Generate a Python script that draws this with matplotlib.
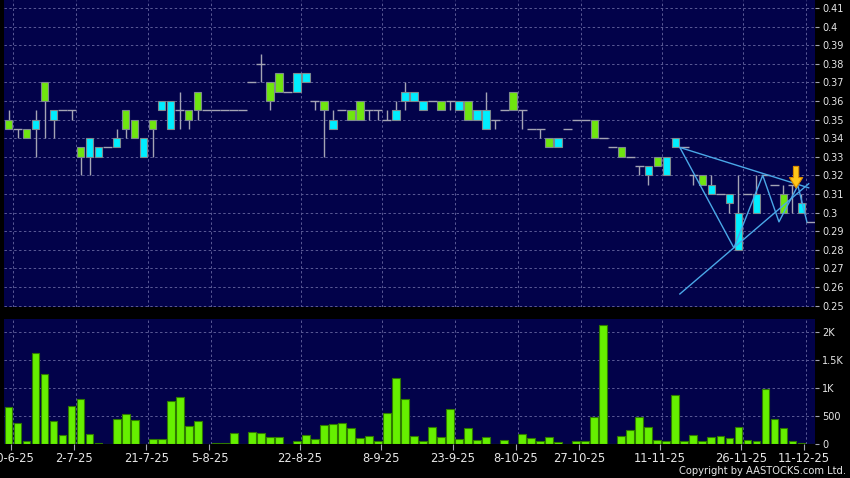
import numpy as np
import matplotlib.pyplot as plt

# daily candles, oldest first (one entry per traded day on the chart)
opens = [0.345, 0.345, 0.340, 0.350, 0.360, 0.355, 0.355, 0.355, 0.330, 0.340,
         0.335, 0.335, 0.340, 0.345, 0.340, 0.340, 0.345, 0.360, 0.360, 0.355,
         0.350, 0.355, 0.355, 0.355, 0.355, 0.355, 0.355, 0.370, 0.380, 0.360,
         0.365, 0.365, 0.375, 0.375, 0.360, 0.355, 0.350, 0.355, 0.350, 0.350,
         0.355, 0.355, 0.350, 0.355, 0.365, 0.365, 0.360, 0.360, 0.355, 0.360,
         0.360, 0.350, 0.355, 0.355, 0.350, 0.355, 0.355, 0.355, 0.345, 0.345,
         0.335, 0.340, 0.345, 0.350, 0.350, 0.340, 0.340, 0.335, 0.330, 0.330,
         0.325, 0.325, 0.325, 0.330, 0.340, 0.335, 0.320, 0.315, 0.315, 0.310,
         0.310, 0.300, 0.310, 0.310, 0.320, 0.315, 0.300, 0.315, 0.305, 0.295]
highs = [0.355, 0.345, 0.345, 0.355, 0.370, 0.355, 0.355, 0.355, 0.335, 0.340,
         0.335, 0.335, 0.345, 0.355, 0.350, 0.340, 0.350, 0.360, 0.360, 0.365,
         0.355, 0.365, 0.355, 0.355, 0.355, 0.355, 0.355, 0.370, 0.385, 0.370,
         0.375, 0.365, 0.375, 0.375, 0.360, 0.360, 0.355, 0.355, 0.355, 0.360,
         0.355, 0.355, 0.355, 0.360, 0.370, 0.365, 0.360, 0.360, 0.360, 0.360,
         0.360, 0.360, 0.355, 0.365, 0.350, 0.355, 0.365, 0.355, 0.345, 0.345,
         0.340, 0.340, 0.345, 0.350, 0.350, 0.350, 0.340, 0.335, 0.335, 0.330,
         0.325, 0.325, 0.330, 0.330, 0.340, 0.335, 0.320, 0.320, 0.320, 0.310,
         0.310, 0.320, 0.310, 0.320, 0.320, 0.315, 0.315, 0.315, 0.310, 0.295]
lows = [0.345, 0.340, 0.340, 0.330, 0.340, 0.340, 0.355, 0.350, 0.320, 0.320,
        0.330, 0.335, 0.335, 0.340, 0.340, 0.330, 0.330, 0.355, 0.345, 0.345,
        0.345, 0.350, 0.355, 0.355, 0.355, 0.355, 0.355, 0.370, 0.370, 0.355,
        0.365, 0.365, 0.365, 0.370, 0.355, 0.330, 0.345, 0.355, 0.350, 0.350,
        0.350, 0.350, 0.350, 0.350, 0.355, 0.360, 0.355, 0.360, 0.355, 0.355,
        0.355, 0.350, 0.350, 0.345, 0.345, 0.355, 0.355, 0.345, 0.345, 0.340,
        0.335, 0.335, 0.345, 0.350, 0.350, 0.340, 0.340, 0.335, 0.330, 0.330,
        0.320, 0.315, 0.325, 0.320, 0.335, 0.335, 0.315, 0.315, 0.310, 0.310,
        0.300, 0.280, 0.310, 0.300, 0.320, 0.315, 0.300, 0.300, 0.300, 0.295]
closes = [0.350, 0.345, 0.345, 0.345, 0.370, 0.350, 0.355, 0.355, 0.335, 0.330,
          0.330, 0.335, 0.335, 0.355, 0.350, 0.330, 0.350, 0.355, 0.345, 0.355,
          0.355, 0.365, 0.355, 0.355, 0.355, 0.355, 0.355, 0.370, 0.380, 0.370,
          0.375, 0.365, 0.365, 0.370, 0.360, 0.360, 0.345, 0.355, 0.355, 0.360,
          0.355, 0.355, 0.350, 0.350, 0.360, 0.360, 0.355, 0.360, 0.360, 0.360,
          0.355, 0.360, 0.350, 0.345, 0.350, 0.355, 0.365, 0.355, 0.345, 0.345,
          0.340, 0.335, 0.345, 0.350, 0.350, 0.350, 0.340, 0.335, 0.335, 0.330,
          0.325, 0.320, 0.330, 0.320, 0.335, 0.335, 0.320, 0.320, 0.310, 0.310,
          0.305, 0.280, 0.310, 0.300, 0.320, 0.315, 0.310, 0.315, 0.300, 0.295]
volumes = [655, 370, 54, 1620, 1250, 416, 155, 673, 804, 184,
           20, 0, 452, 530, 420, 0, 95, 95, 768, 840,
           315, 410, 5, 15, 10, 190, 5, 208, 198, 125,
           125, 0, 54, 167, 83, 340, 357, 375, 286, 113,
           137, 48, 554, 1173, 804, 137, 48, 304, 125, 620,
           89, 280, 76, 125, 3, 65, 5, 179, 101, 54,
           131, 36, 5, 48, 48, 488, 2125, 5, 143, 244,
           488, 298, 77, 48, 869, 54, 161, 60, 131, 137,
           101, 304, 71, 48, 976, 440, 280, 60, 15, 5]

date_pos = [0, 7, 15, 22, 32, 41, 49, 56, 63, 72, 81, 88]
date_labels = ['20-6-25', '2-7-25', '21-7-25', '5-8-25', '22-8-25', '8-9-25',
               '23-9-25', '8-10-25', '27-10-25', '11-11-25', '26-11-25', '11-12-25']
price_ticks = [0.25, 0.26, 0.27, 0.28, 0.29, 0.30, 0.31, 0.32, 0.33,
               0.34, 0.35, 0.36, 0.37, 0.38, 0.39, 0.40, 0.41]
vol_ticks = [0, 500, 1000, 1500, 2000]
vol_labels = ['0', '500', '1K', '1.5K', '2K']

# pattern lines (bar index, price)
zigzag_x = [74.5, 80.5, 83.7, 85.5, 87.6, 88.6]
zigzag_y = [0.335, 0.281, 0.320, 0.295, 0.3145, 0.295]
upper_x = [74.5, 88.8]
upper_y = [0.335, 0.3133]
lower_x = [74.5, 88.8]
lower_y = [0.2562, 0.3155]
signal_x = 87.4
signal_tip = 0.3132
signal_tail = 0.3248

navy = '#02024A'
grid_c = '#5A5A96'
up_c = '#6FE60F'
down_c = '#00EEFF'
wick_c = '#A4A4B4'
text_c = '#E6E6E6'

o = np.array(opens)
h = np.array(highs)
l = np.array(lows)
c = np.array(closes)
x = np.arange(len(o))

W, H = 850, 478
fig = plt.figure(figsize=(W / 100, H / 100), dpi=100, facecolor='black')
ax = fig.add_axes([4 / W, (H - 307) / H, 811 / W, 307 / H])
axv = fig.add_axes([4 / W, (H - 444) / H, 811 / W, 125 / H], sharex=ax)

for a in (ax, axv):
    a.set_facecolor(navy)
    for s in a.spines.values():
        s.set_visible(False)
    a.yaxis.tick_right()
    a.tick_params(axis='y', colors=wick_c, labelcolor=text_c, length=3, width=0.8,
                  pad=2, labelsize=7)
    for d in date_pos:
        a.axvline(d + 0.5, color=grid_c, lw=0.7, dashes=(2.5, 2.5), zorder=0)

# price panel
for p in price_ticks:
    ax.axhline(p, color=grid_c, lw=0.7, dashes=(2.5, 2.5), zorder=0)
ax.set_yticks(price_ticks)
ax.set_yticklabels([f'{p:g}' for p in price_ticks])
ax.set_ylim(0.2492, 0.4143)
ax.set_xlim(-0.5, len(o) - 0.5)
ax.tick_params(axis='x', bottom=False, labelbottom=False)

ax.vlines(x, l, h, color=wick_c, lw=1, zorder=2)
flat = o == c
ax.hlines(c[flat], x[flat] - 0.5, x[flat] + 0.5, color=wick_c, lw=1, zorder=2)
body = ~flat
cols = np.where(c > o, up_c, down_c)
ax.bar(x[body], np.abs(c - o)[body], bottom=np.minimum(o, c)[body], width=0.82,
       color=cols[body], edgecolor='#7E8A8E', lw=0.8, zorder=3)

lc = '#4AA8E8'
ax.plot(zigzag_x, zigzag_y, color=lc, lw=1, zorder=4)
ax.plot(upper_x, upper_y, color=lc, lw=1, zorder=4)
ax.plot(lower_x, lower_y, color=lc, lw=1, zorder=4)
ax.annotate('', xy=(signal_x, signal_tip), xytext=(signal_x, signal_tail),
            arrowprops=dict(facecolor='#FFC61A', edgecolor='#D98A00', lw=0.8,
                            width=3.8, headwidth=9.5, headlength=7.5, shrink=0),
            zorder=5)

# volume panel
for v in vol_ticks[1:]:
    axv.axhline(v, color=grid_c, lw=0.7, dashes=(2.5, 2.5), zorder=0)
axv.bar(x, volumes, width=0.86, color='#66F000', edgecolor='#2F7A00', lw=0.8, zorder=3)
axv.set_ylim(0, 2232)
axv.set_yticks(vol_ticks)
axv.set_yticklabels(vol_labels)
axv.set_xticks([d + 0.3 for d in date_pos])
axv.set_xticklabels(date_labels)
axv.tick_params(axis='x', colors=wick_c, labelcolor=text_c, length=4, width=0.8,
                pad=2, labelsize=8.3)

fig.text(846 / W, 1 - 471 / H, 'Copyright by AASTOCKS.com Ltd.', ha='right', va='center',
         fontsize=7.2, color=text_c)

fig.savefig('out.png', dpi=100, facecolor='black')
